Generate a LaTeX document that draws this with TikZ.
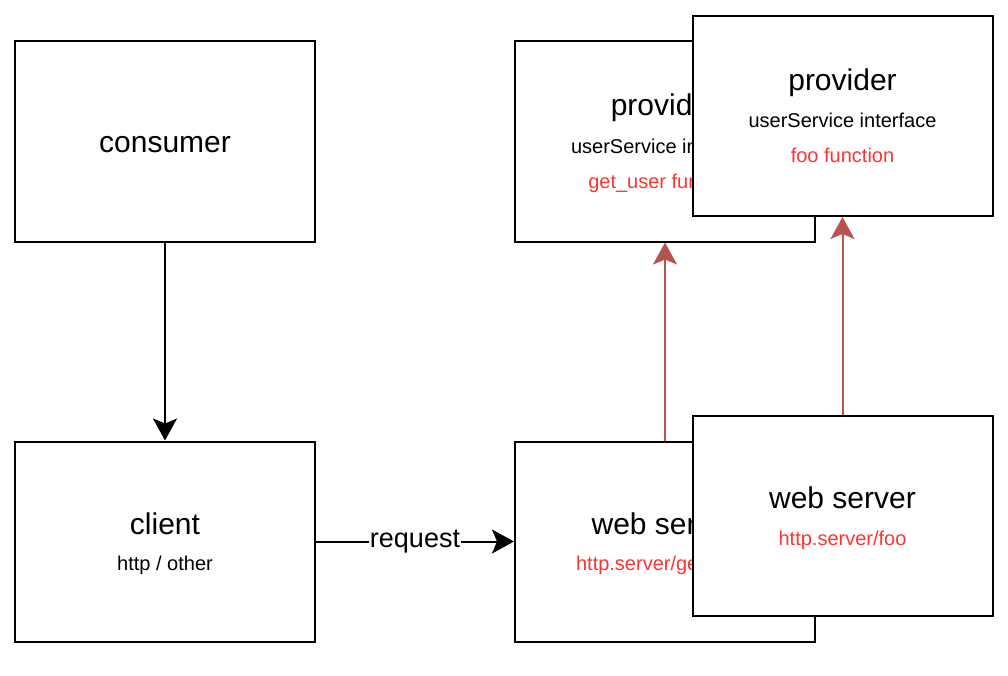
\documentclass[tikz,border=0pt]{standalone}
\usepackage{fontspec}
\setmainfont{Liberation Sans}
\usetikzlibrary{arrows.meta}
\definecolor{redtxt}{HTML}{FF3333}
\definecolor{redline}{HTML}{B85450}

\begin{document}
\begin{tikzpicture}[x=1pt,y=-1pt,
  box/.style={draw,line width=2pt,fill=white,minimum width=300pt,minimum height=200pt,inner sep=0pt},
  big/.style={anchor=base,inner sep=0pt,font=\fontsize{30}{36}\selectfont},
  small/.style={anchor=base,inner sep=0pt,font=\fontsize{20}{24}\selectfont},
  redsmall/.style={small,text=redtxt},
  arr/.style={-{Stealth[length=22pt,width=24pt,inset=5pt]},line width=2pt}]
\useasboundingbox (0,0) rectangle (1008,676);
% left column
\node[box] (consumer)at(165,141.5){};
\node[big] (consumerlbl)at(165,153){consumer};
\node[box] (client)at(165,541.5){};
\node[big] (clientlbl)at(165,534){client};
\node[small] (clientsub)at(165,570){http / other};
% back boxes
\node[box] (prov1)at(665,141.5){};
\node[big] (prov1lbl)at(665,116){provider};
\node[small] (prov1sub)at(665,154){userService interface};
\node[redsmall] (prov1fn)at(665,189){get\_user function};
\node[box] (web1)at(665,541.5){};
\node[big] (web1lbl)at(665,534){web server};
\node[redsmall] (web1sub)at(665,570){http.server/get\_user};
% front boxes
\node[box] (prov2)at(842.5,116){};
\node[big] (prov2lbl)at(842.5,91){provider};
\node[small] (prov2sub)at(842.5,128){userService interface};
\node[redsmall] (prov2fn)at(842.5,163){foo function};
\node[box] (web2)at(842.5,516){};
\node[big] (web2lbl)at(842.5,508.5){web server};
\node[redsmall] (web2sub)at(842.5,545){http.server/foo};
% connectors
\draw[arr] (consumer) to (client);
\draw[arr] (client) to node[fill=white,inner sep=1pt,font=\fontsize{27}{32}\selectfont]{request} (web1);
\draw[arr,draw=redline,fill=redline] (web1) to (prov1);
\draw[arr,draw=redline,fill=redline] (web2) to (prov2);
\end{tikzpicture}
\end{document}
